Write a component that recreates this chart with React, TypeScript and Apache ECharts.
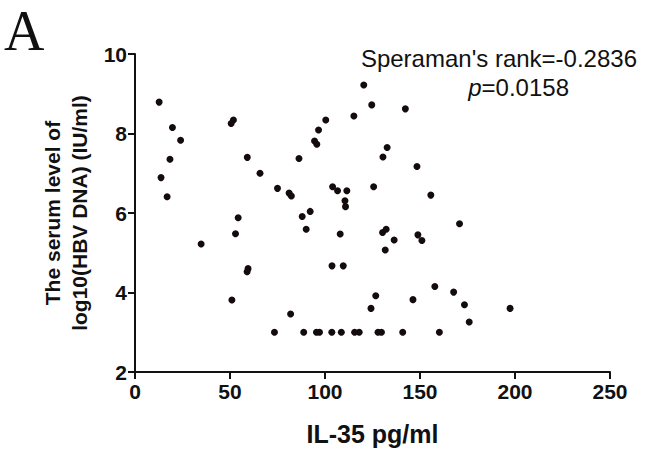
import React, { useEffect, useRef } from "react";
import * as echarts from "echarts";

const il35: number[] = [
  12.7, 19.7, 24.0, 18.4, 13.7, 16.9, 51.8, 50.6, 59.1, 65.8, 54.3, 52.9, 34.8, 59.5, 59.0, 51.0,
  120.4, 124.6, 115.2, 100.4, 96.6, 94.5, 95.7, 86.3, 75.0, 81.1, 82.3, 104.0, 106.6, 111.5, 125.6,
  110.5, 110.8, 88.0, 92.2, 90.1, 108.0, 103.7, 109.6, 126.7, 124.2, 81.9,
  73.4, 88.8, 95.5, 97.1, 103.6, 108.6, 115.6, 118.0, 127.9, 129.7, 140.9, 160.2,
  155.7, 170.8, 130.3, 132.2, 136.4, 131.7, 148.9, 151.0, 157.8, 167.7, 146.3, 173.4, 197.4, 175.9,
  142.3, 132.7, 130.5, 148.4,
];
const hbvDna: number[] = [
  8.79, 8.15, 7.83, 7.35, 6.89, 6.41, 8.34, 8.25, 7.4, 7.0, 5.88, 5.48, 5.22, 4.6, 4.52, 3.81,
  9.22, 8.72, 8.44, 8.34, 8.09, 7.81, 7.73, 7.37, 6.62, 6.5, 6.43, 6.66, 6.56, 6.56, 6.66,
  6.31, 6.16, 5.91, 6.04, 5.59, 5.47, 4.67, 4.67, 3.92, 3.6, 3.46,
  3.0, 3.0, 3.0, 3.0, 3.0, 3.0, 3.0, 3.0, 3.0, 3.0, 3.0, 3.0,
  6.45, 5.73, 5.51, 5.59, 5.32, 5.07, 5.45, 5.31, 4.15, 4.01, 3.82, 3.69, 3.6, 3.26,
  8.62, 7.65, 7.41, 7.17,
];
const xTicks = { min: 0, max: 250, interval: 50 };
const yTicks = { min: 2, max: 10, interval: 2 };
const panelLabel = "A";
const statLine1 = "Speraman's rank=-0.2836";
const statPValue = "=0.0158";

const FONT = "Arial, 'Liberation Sans', Helvetica, sans-serif";

export default function App() {
  const ref = useRef<HTMLDivElement>(null);
  useEffect(() => {
    document.body.style.margin = "0";
    if (!ref.current) return;
    const chart = echarts.init(ref.current, undefined, { renderer: "svg" });
    const points = il35.map((x, i) => [x, hbvDna[i]]);
    const axisLine = { show: true, lineStyle: { color: "#111", width: 2 } };
    chart.setOption({
      animation: false,
      backgroundColor: "#fff",
      grid: { left: 135, top: 54, right: 61, bottom: 83, containLabel: false },
      xAxis: {
        type: "value",
        min: xTicks.min,
        max: xTicks.max,
        interval: xTicks.interval,
        axisLine: { ...axisLine, onZero: false },
        axisTick: { show: true, length: 7, lineStyle: { color: "#111", width: 2 } },
        splitLine: { show: false },
        axisLabel: { color: "#111", fontSize: 21, fontWeight: "bold", fontFamily: FONT, margin: 9 },
        name: "IL-35 pg/ml",
        nameLocation: "middle",
        nameGap: 49,
        nameTextStyle: { color: "#111", fontSize: 25, fontWeight: "bold", fontFamily: FONT },
      },
      yAxis: {
        type: "value",
        min: yTicks.min,
        max: yTicks.max,
        interval: yTicks.interval,
        axisLine: { ...axisLine, onZero: false },
        axisTick: { show: true, length: 7, lineStyle: { color: "#111", width: 2 } },
        splitLine: { show: false },
        axisLabel: { color: "#111", fontSize: 21, fontWeight: "bold", fontFamily: FONT, margin: 8 },
        name: "The serum level of\nlog10(HBV DNA) (IU/ml)",
        nameLocation: "middle",
        nameGap: 35,
        nameTextStyle: { color: "#111", fontSize: 21, fontWeight: "bold", fontFamily: FONT, lineHeight: 27 },
      },
      series: [
        {
          type: "scatter",
          data: points,
          symbol: "circle",
          symbolSize: 7,
          itemStyle: { color: "#140c0c", opacity: 1 },
        },
      ],
      graphic: [
        {
          type: "text",
          left: 4,
          top: 3,
          style: { text: panelLabel, fontSize: 56, fontFamily: "'Liberation Serif', 'Times New Roman', serif", fill: "#111" },
        },
        {
          type: "text",
          right: 34,
          top: 46,
          style: { text: statLine1, fontSize: 24, fontFamily: FONT, fill: "#111" },
        },
        {
          type: "text",
          right: 102,
          top: 75,
          style: {
            text: "{i|p}{n|" + statPValue + "}",
            rich: {
              i: { fontSize: 24, fontStyle: "italic", fontFamily: FONT, fill: "#111" },
              n: { fontSize: 24, fontFamily: FONT, fill: "#111" },
            },
          },
        },
      ],
    });
    return () => chart.dispose();
  }, []);
  return <div ref={ref} style={{ width: 671, height: 455 }} />;
}
